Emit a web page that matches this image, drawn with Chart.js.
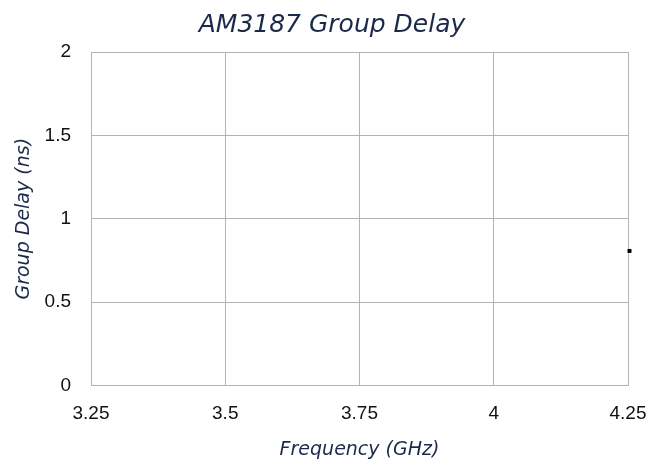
<!DOCTYPE html>
<html>
<head>
<meta charset="utf-8">
<script src="https://cdn.jsdelivr.net/npm/chart.js@4"></script>
<style>
  html, body { margin: 0; padding: 0; background: #fff; }
  #wrap { width: 661px; height: 464px; }
</style>
</head>
<body>
<div id="wrap"><canvas id="chart"></canvas></div>
<script>
// data
const frequency = [4.2528];
const groupDelay = [0.807];
const xTicks = [3.25, 3.5, 3.75, 4, 4.25];
const yTicks = [0, 0.5, 1, 1.5, 2];

const navy = '#1b2a4a';
const gridColor = '#b3b3b3';

const ctx = document.getElementById('chart');
new Chart(ctx, {
    type: 'scatter',
    data: {
        datasets: [{
            label: 'Group Delay',
            data: frequency.map((f, i) => ({ x: f, y: groupDelay[i] })),
            backgroundColor: '#000',
            borderColor: '#000',
            pointStyle: 'rect',
            pointRadius: 2.8,
            borderWidth: 0,
            clip: false
        }]
    },
    options: {
        responsive: true,
        maintainAspectRatio: false,
        animation: false,
        layout: { padding: { left: 13, right: 10, top: 0, bottom: 3 } },
        plugins: {
            legend: { display: false },
            tooltip: { enabled: false },
            title: {
                display: true,
                text: 'AM3187 Group Delay',
                color: navy,
                font: { family: 'DejaVu Sans', size: 25, style: 'italic', weight: 'normal' },
                padding: { top: 10, bottom: 12 }
            }
        },
        scales: {
            x: {
                type: 'linear',
                min: xTicks[0],
                max: xTicks[xTicks.length - 1],
                afterBuildTicks: axis => { axis.ticks = xTicks.map(v => ({ value: v })); },
                afterFit: axis => {
                    axis.height = 75.5;
                    axis.paddingLeft = 0;
                    axis.paddingRight = 33;
                },
                grid: { color: gridColor, drawTicks: false },
                border: { color: gridColor },
                ticks: {
                    color: '#111',
                    font: { family: 'Liberation Sans', size: 19 },
                    padding: 16.5,
                    maxRotation: 0,
                    callback: v => String(v)
                },
                title: {
                    display: true,
                    text: 'Frequency (GHz)',
                    color: navy,
                    font: { family: 'DejaVu Sans', size: 19, style: 'italic' },
                    padding: { top: 12, bottom: 0 }
                }
            },
            y: {
                min: yTicks[0],
                max: yTicks[yTicks.length - 1],
                afterBuildTicks: axis => { axis.ticks = yTicks.map(v => ({ value: v })); },
                afterFit: axis => { axis.width = 78; },
                grid: { color: gridColor, drawTicks: false },
                border: { color: gridColor },
                ticks: {
                    color: '#111',
                    font: { family: 'Liberation Sans', size: 19 },
                    padding: 20,
                    callback: v => String(v)
                },
                title: {
                    display: true,
                    text: 'Group Delay (ns)',
                    color: navy,
                    font: { family: 'DejaVu Sans', size: 19, style: 'italic' },
                    padding: { top: 0, bottom: 11 }
                }
            }
        }
    }
});
</script>
</body>
</html>
